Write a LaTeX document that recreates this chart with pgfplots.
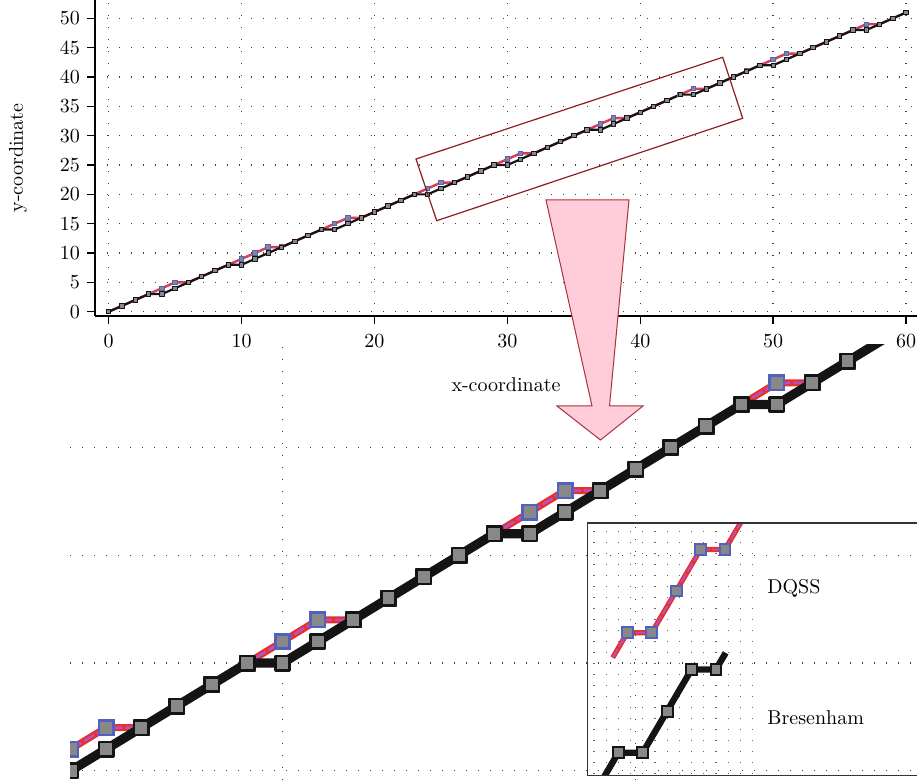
\documentclass[border=0pt]{standalone}
\usepackage{pgfplots}
\pgfplotsset{compat=1.18}
\usepackage{pgfplotstable}

\definecolor{dqred}{RGB}{232,48,40}
\definecolor{dqpurple}{RGB}{180,80,200}
\definecolor{dqblue}{RGB}{80,97,192}
\definecolor{markgray}{RGB}{136,136,136}
\definecolor{linebl}{RGB}{20,20,20}
\definecolor{arrowpink}{RGB}{255,204,217}
\definecolor{arrowedge}{RGB}{170,50,55}
\definecolor{rectred}{RGB}{140,30,30}

\pgfplotstableread{
x y
0 0
1 1
2 2
3 3
4 3
5 4
6 5
7 6
8 7
9 8
10 8
11 9
12 10
13 11
14 12
15 13
16 14
17 14
18 15
19 16
20 17
21 18
22 19
23 20
24 20
25 21
26 22
27 23
28 24
29 25
30 25
31 26
32 27
33 28
34 29
35 30
36 31
37 31
38 32
39 33
40 34
41 35
42 36
43 37
44 37
45 38
46 39
47 40
48 41
49 42
50 42
51 43
52 44
53 45
54 46
55 47
56 48
57 48
58 49
59 50
60 51
}\bres

\pgfplotstableread{
x y
0 0
1 1
2 2
3 3
4 4
5 5
6 5
7 6
8 7
9 8
10 9
11 10
12 11
13 11
14 12
15 13
16 14
17 15
18 16
19 16
20 17
21 18
22 19
23 20
24 21
25 22
26 22
27 23
28 24
29 25
30 26
31 27
32 27
33 28
34 29
35 30
36 31
37 32
38 33
39 33
40 34
41 35
42 36
43 37
44 38
45 38
46 39
47 40
48 41
49 42
50 43
51 44
52 44
53 45
54 46
55 47
56 48
57 49
58 49
59 50
60 51
}\dqss

% legend samples: line paths and the marked points
\pgfplotstableread{
x y
-0.23 2.285
0.37 2.885
1.37 2.885
2.37 3.885
3.37 4.885
4.37 4.885
5.37 5.885
}\legdqline
\pgfplotstableread{
x y
0.37 2.885
1.37 2.885
2.37 3.885
3.37 4.885
4.37 4.885
}\legdqmark
\pgfplotstableread{
x y
-1 -1
0 0
1 0
2 1
3 2
4 2
4.4 2.4
}\legbrline
\pgfplotstableread{
x y
0 0
1 0
2 1
3 2
4 2
}\legbrmark

\pgfplotsset{
  dotgrid/.style={line width=0.7pt, black!75, dash pattern=on 0.7pt off 5.3pt},
}

\begin{document}
\begin{tikzpicture}
\path[use as bounding box] (0pt,0pt) rectangle (458.5pt,-390pt);

% ---------------- magnified view (bottom) ----------------
\begin{axis}[
  at={(35pt,-390pt)}, anchor=south west,
  width=423.5pt, height=217.5pt, scale only axis,
  xmin=23.98, xmax=47.97, ymin=19.57, ymax=39.76,
  axis line style={draw=none},
  xtick={30,40}, ytick={20,25,30,35},
  xticklabels={}, yticklabels={},
  tick style={draw=none},
  grid=major, grid style={dotgrid},
  clip marker paths=true,
]
\addplot[dqred, line width=3.5pt, line join=round, no markers] table {\dqss};
\addplot[dqpurple, line width=1.3pt, dash pattern=on 6pt off 1.5pt, no markers] table {\dqss};
\addplot[only marks, mark=square*, mark size=3.6pt,
  mark options={fill=markgray, draw=dqblue, line width=1.3pt, solid}] table {\dqss};
\addplot[linebl, line width=4.6pt, line join=round, mark=square*, mark size=3.6pt,
  mark options={fill=markgray, draw=linebl, line width=1.3pt, solid}] table {\bres};
\end{axis}

% ---------------- legend samples ----------------
\begin{axis}[
  at={(296pt,-387pt)}, anchor=south west,
  width=82.5pt, height=124.5pt, scale only axis,
  xmin=-1.078, xmax=5.684, ymin=-0.512, ymax=5.474,
  axis line style={draw=none},
  xtick distance=0.5, ytick distance=0.25,
  xticklabels={}, yticklabels={},
  tick style={draw=none},
  xmajorgrids, ymajorgrids=false,
  grid style={line width=0.6pt, black!60, dash pattern=on 0.6pt off 4.9pt},
]
\addplot[dqred, line width=2.6pt, line join=round, no markers] table {\legdqline};
\addplot[dqpurple, line width=0.9pt, dash pattern=on 5pt off 1.2pt, no markers] table {\legdqline};
\addplot[only marks, mark=square*, mark size=2.7pt,
  mark options={fill=markgray, draw=dqblue, line width=1pt, solid}] table {\legdqmark};
\addplot[linebl, line width=3.2pt, line join=round, no markers] table {\legbrline};
\addplot[only marks, mark=square*, mark size=2.7pt,
  mark options={fill=markgray, draw=linebl, line width=1pt, solid}] table {\legbrmark};
\end{axis}

% ---------------- full view (top) ----------------
\begin{axis}[
  at={(47.5pt,-158pt)}, anchor=south west,
  width=411pt, height=158pt, scale only axis,
  xmin=-1.03, xmax=60.82, ymin=-0.73, ymax=53.13,
  axis x line*=bottom, axis y line*=left,
  axis line style={-, line width=0.75pt, black},
  xtick={0,10,...,60}, ytick={0,5,...,50},
  tick align=outside, major tick length=4pt,
  tick style={line width=0.75pt, black},
  grid=major, grid style={dotgrid},
  xlabel={x-coordinate}, ylabel={y-coordinate},
  x label style={at={(axis description cs:0.5,-0.218)}, anchor=center},
  y label style={at={(axis description cs:-0.0937,0.5)}, anchor=center},
  x tick label style={yshift=-2pt},
]
\addplot[dqred, line width=1.2pt, line join=round, no markers] table {\dqss};
\addplot[dqpurple, line width=0.4pt, dash pattern=on 2pt off 0.6pt, no markers] table {\dqss};
\addplot[only marks, mark=square*, mark size=1.1pt,
  mark options={fill=markgray, draw=dqblue, line width=0.5pt, solid}] table {\dqss};
\addplot[linebl, line width=1.1pt, line join=round, mark=square*, mark size=1.1pt,
  mark options={fill=markgray, draw=linebl, line width=0.45pt, solid}] table {\bres};
\end{axis}

% ---------------- annotations ----------------
\begin{scope}[x=0.5pt, y=-0.5pt]
\draw[rectred, line width=0.6pt] (416,159) -- (436.7,220.7) -- (742.7,118.3) -- (722.7,57.3) -- cycle;
\filldraw[fill=arrowpink, draw=arrowedge, line width=0.5pt]
  (546,200) -- (629,200) -- (609.5,406) -- (643,406) -- (600.5,440) -- (557,406) -- (592,406) -- cycle;
\draw[black!80, line width=0.6pt] (587.5,523) rectangle (925,775.5);
\node[anchor=west, inner sep=0pt] at (767,588) {DQSS};
\node[anchor=west, inner sep=0pt] at (767,718) {Bresenham};
\end{scope}
\end{tikzpicture}
\end{document}
